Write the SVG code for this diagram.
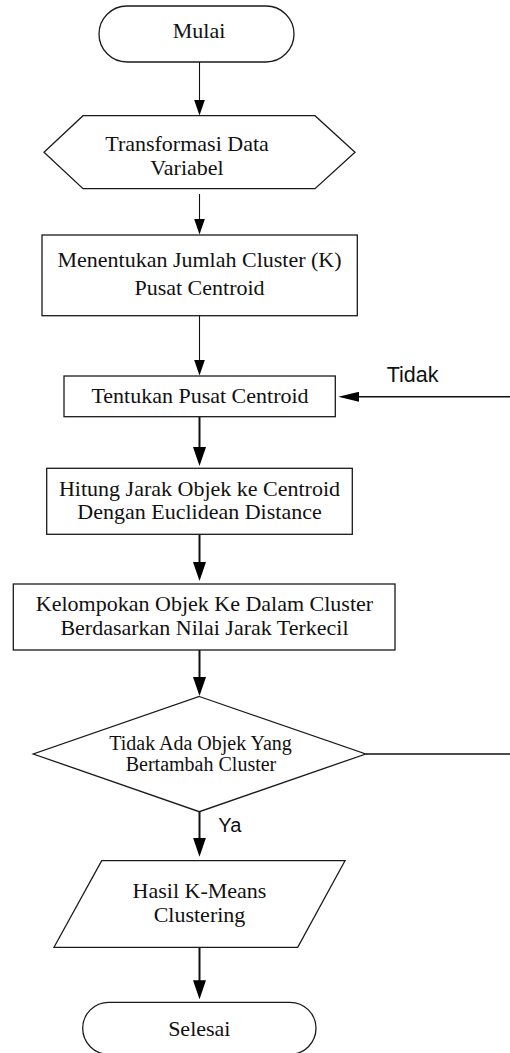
<svg xmlns="http://www.w3.org/2000/svg" width="510" height="1053" viewBox="0 0 510 1053">
  <style>
    .shape { fill: #ffffff; stroke: #1a1a1a; stroke-width: 1.3; }
    .t { font-family: "Liberation Serif", "Times New Roman", serif; font-size: 22px; fill: #111; text-anchor: middle; }
    .ts { font-family: "Liberation Serif", "Times New Roman", serif; font-size: 20px; fill: #111; text-anchor: middle; }
    .lbl { font-family: "Liberation Sans", Arial, sans-serif; fill: #111; }
    .thin { stroke: #111; stroke-width: 1.1; fill: none; }
    .thick { stroke: #111; stroke-width: 2; fill: none; }
  </style>
  <defs>
    <marker id="aThin" markerUnits="userSpaceOnUse" markerWidth="16" markerHeight="11" refX="12" refY="5.5" orient="auto">
      <path d="M0,0 L16,5.5 L0,11 z" fill="#000"/>
    </marker>
    <marker id="aThick" markerUnits="userSpaceOnUse" markerWidth="19" markerHeight="13" refX="15" refY="6.5" orient="auto">
      <path d="M0,0 L19,6.5 L0,13 z" fill="#000"/>
    </marker>
    <marker id="aSide" markerUnits="userSpaceOnUse" markerWidth="21" markerHeight="10" refX="17" refY="5" orient="auto">
      <path d="M0,0 L21,5 L0,10 z" fill="#000"/>
    </marker>
  </defs>

  <g id="connectors">
    <line class="thin" x1="199.5" y1="62" x2="199.5" y2="111.5" marker-end="url(#aThin)"/>
    <line class="thin" x1="199.5" y1="194" x2="199.5" y2="230.5" marker-end="url(#aThin)"/>
    <line class="thin" x1="199.5" y1="315.7" x2="199.5" y2="371.5" marker-end="url(#aThin)"/>
    <line class="thick" x1="199.5" y1="416.7" x2="199.5" y2="462" marker-end="url(#aThick)"/>
    <line class="thick" x1="199.5" y1="534.3" x2="199.5" y2="577" marker-end="url(#aThick)"/>
    <line class="thick" x1="199.5" y1="650" x2="199.5" y2="692" marker-end="url(#aThick)"/>
    <line class="thick" x1="199.5" y1="811.7" x2="199.5" y2="852.7" marker-end="url(#aThick)"/>
    <line class="thick" x1="199.5" y1="947.3" x2="199.5" y2="995.3" marker-end="url(#aThick)"/>
    <line class="thin" x1="365.7" y1="754" x2="510" y2="754" style="stroke-width:1.5"/>
    <line class="thin" x1="510" y1="396.7" x2="342.3" y2="396.7" style="stroke-width:1.4" marker-end="url(#aSide)"/>
    <text class="lbl" x="386.7" y="382" font-size="21.5">Tidak</text>
    <text class="lbl" x="218.3" y="831.7" font-size="20">Ya</text>
  </g>

  <g id="mulai">
    <rect class="shape" x="99" y="6" width="195" height="56" rx="28" ry="28"/>
    <text class="t" x="199" y="38.3">Mulai</text>
  </g>

  <g id="transformasi">
    <polygon class="shape" points="44,152.3 83,115.7 315,115.7 355,152.3 315,188.7 83,188.7"/>
    <text class="t" x="187" y="151.3">Transformasi Data</text>
    <text class="t" x="187" y="175">Variabel</text>
  </g>

  <g id="menentukan">
    <rect class="shape" x="42" y="235" width="315.3" height="80.7"/>
    <text class="t" x="199.5" y="267.3">Menentukan Jumlah Cluster (K)</text>
    <text class="t" x="199.5" y="295">Pusat Centroid</text>
  </g>

  <g id="tentukan">
    <rect class="shape" x="64" y="376" width="271.3" height="40.7"/>
    <text class="t" x="200" y="402.7">Tentukan Pusat Centroid</text>
  </g>

  <g id="hitung">
    <rect class="shape" x="46.7" y="468.3" width="305.6" height="66"/>
    <text class="t" x="199.5" y="495.7">Hitung Jarak Objek ke Centroid</text>
    <text class="t" x="199.5" y="519.3">Dengan Euclidean Distance</text>
  </g>

  <g id="kelompokan">
    <rect class="shape" x="13.3" y="584" width="381.7" height="66"/>
    <text class="t" x="204.5" y="611">Kelompokan Objek Ke Dalam Cluster</text>
    <text class="t" x="204.5" y="635">Berdasarkan Nilai Jarak Terkecil</text>
  </g>

  <g id="keputusan">
    <polygon class="shape" points="199.3,696.5 365.7,754 199.3,811.7 33.3,754"/>
    <text class="ts" x="200.5" y="750">Tidak Ada Objek Yang</text>
    <text class="ts" x="201" y="771">Bertambah Cluster</text>
  </g>

  <g id="hasil">
    <polygon class="shape" points="101.7,860.7 345,860.7 297.7,947.3 54,947.3"/>
    <text class="t" x="199.5" y="897.7">Hasil K-Means</text>
    <text class="t" x="199.5" y="922.3">Clustering</text>
  </g>

  <g id="selesai">
    <rect class="shape" x="82.7" y="1002.3" width="233.3" height="52" rx="26" ry="26"/>
    <text class="t" x="199.3" y="1035.7">Selesai</text>
  </g>
</svg>
